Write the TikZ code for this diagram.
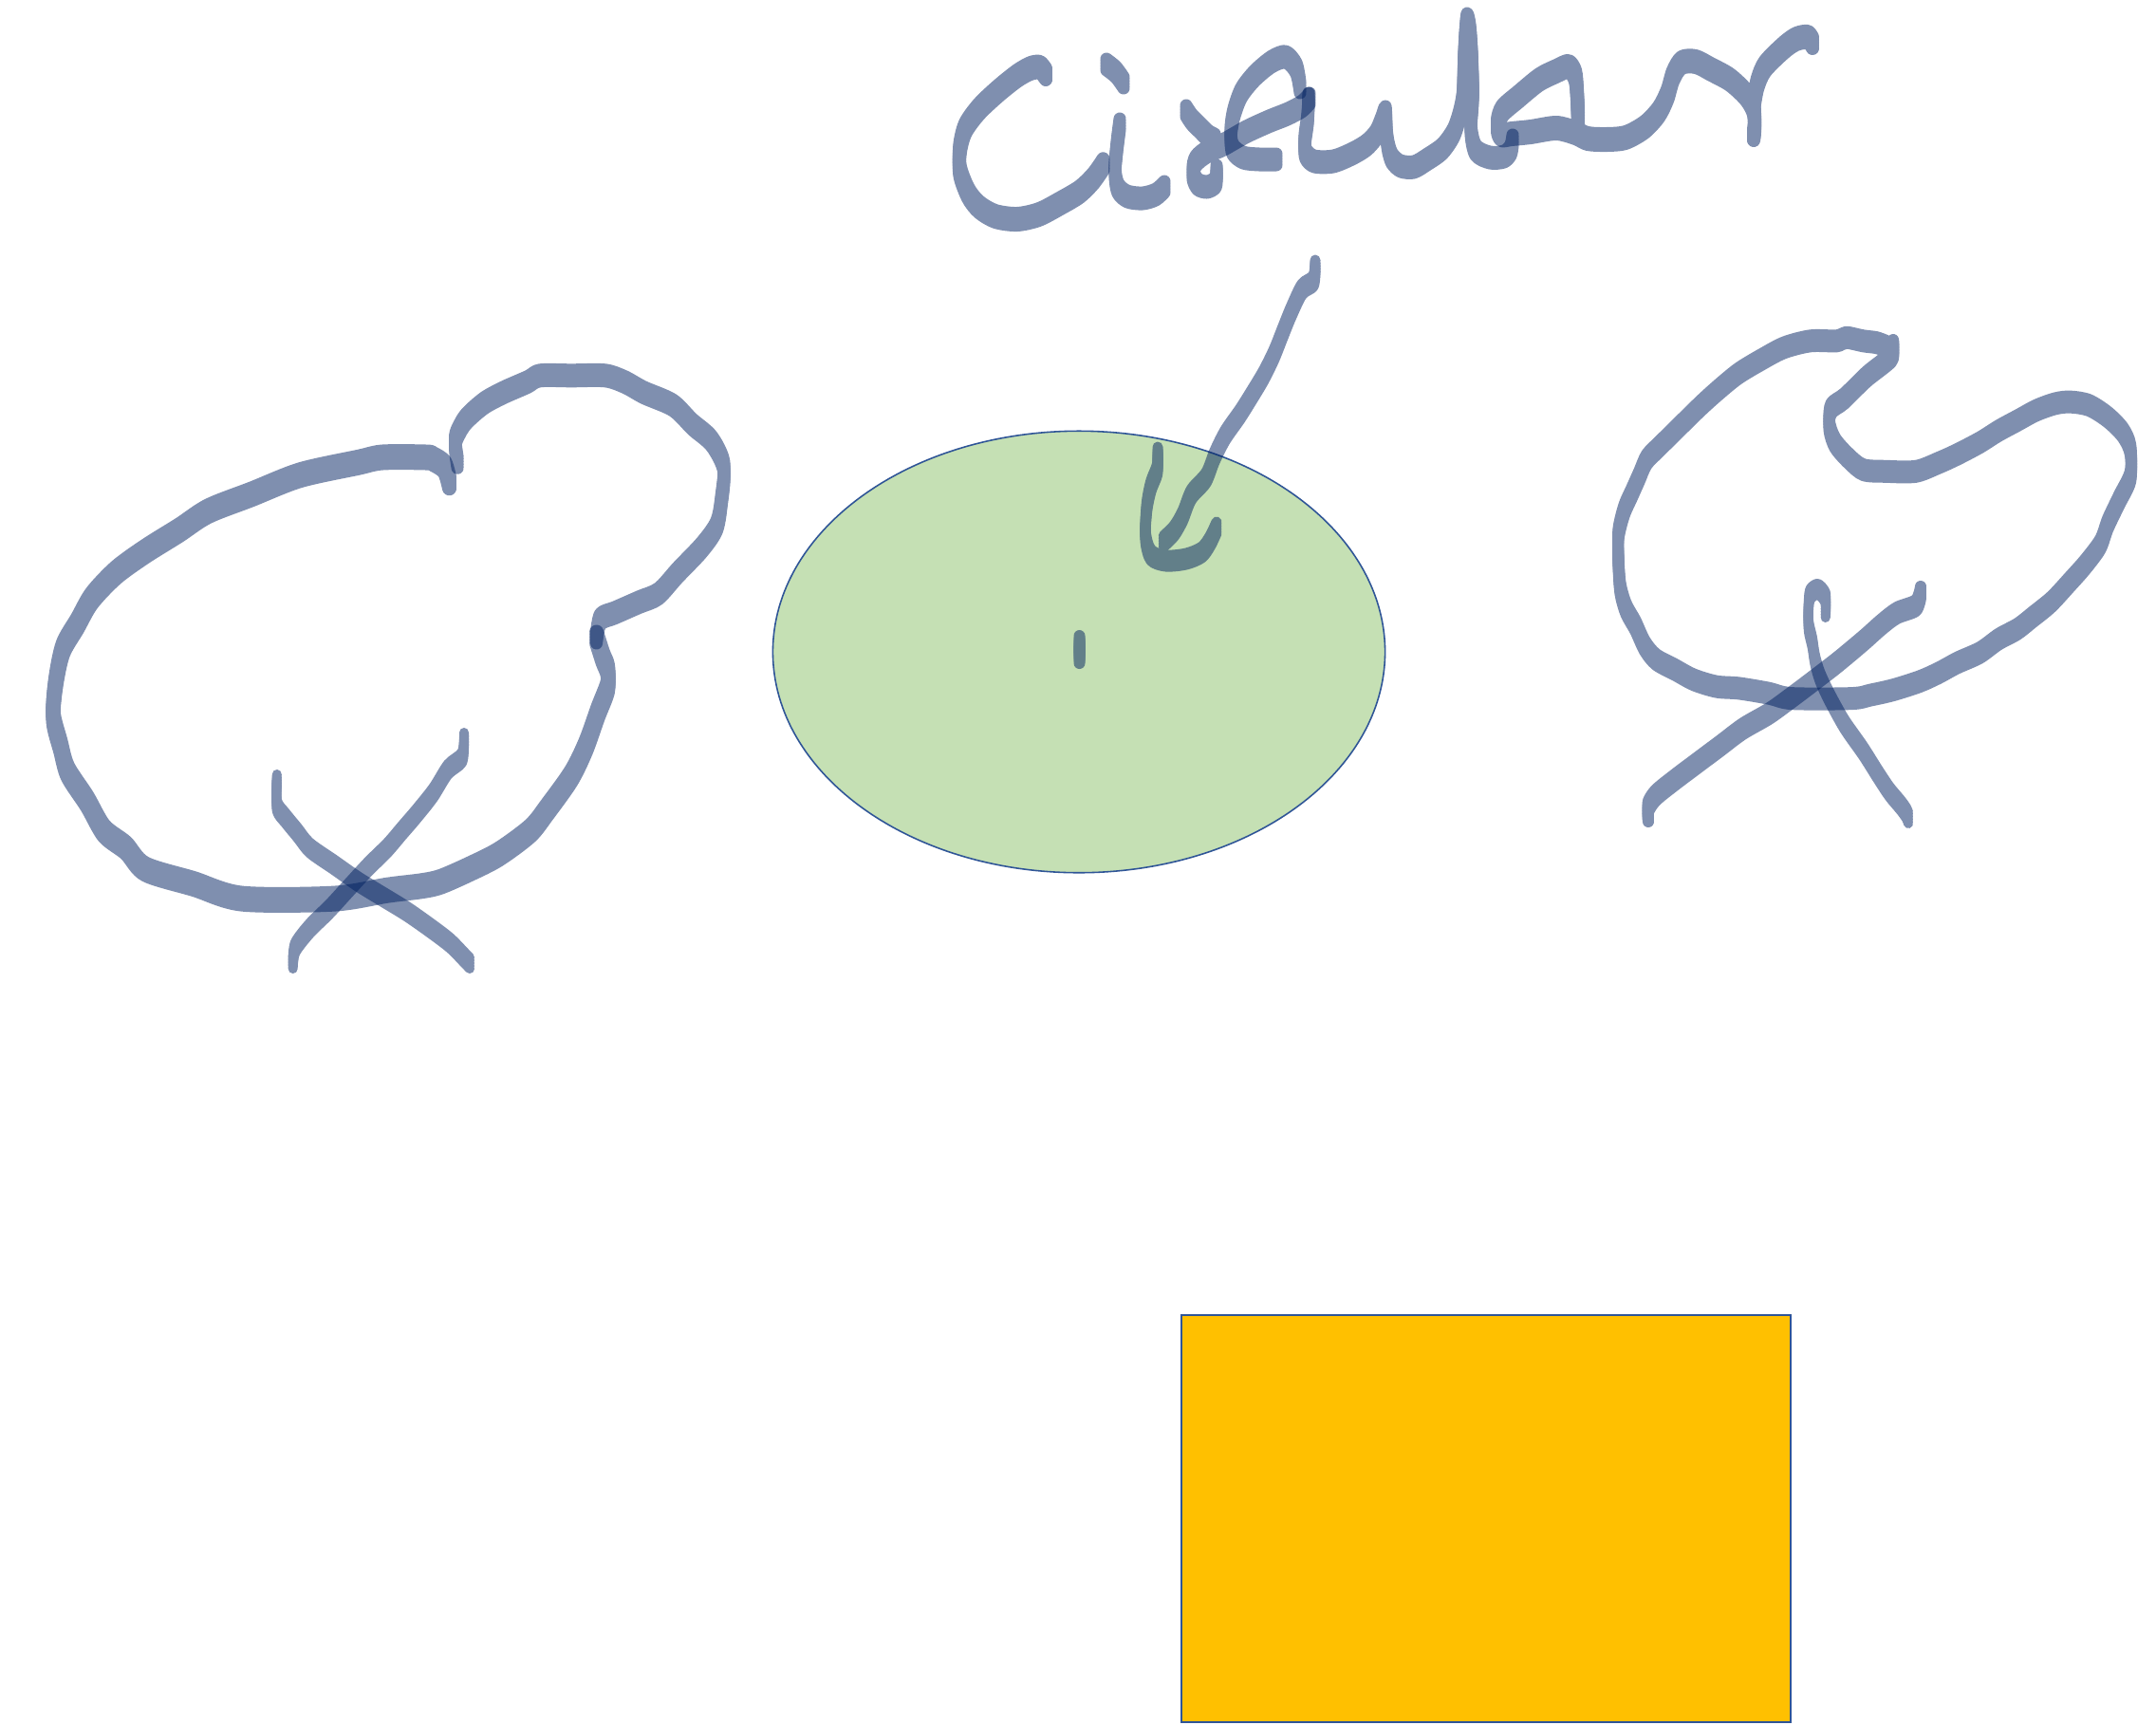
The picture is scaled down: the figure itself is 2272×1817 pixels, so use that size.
\documentclass[tikz,border=0pt]{standalone}
\definecolor{inkc}{HTML}{002060}
\definecolor{ellfill}{HTML}{C5E0B4}
\definecolor{edgeblue}{HTML}{2F5597}
\definecolor{rectfill}{HTML}{FFC000}
\tikzset{
  inkpen/.style={draw=inkc, line cap=round, line join=round},
  shapeedge/.style={draw=edgeblue},
}
% one stroke of a flat (vertical) nib: five shifted copies inside one transparency group
\newcommand\inkstroke[2][0.12cm]{%
  \begin{scope}[transparency group, opacity=0.5]
    \path (0,0) rectangle (2272,1817);
    \foreach \nibdy in {-6,-3,0,3,6}{\draw[inkpen, line width=#1, yshift=\nibdy*0.01cm] #2;}
  \end{scope}}
\begin{document}
\begin{tikzpicture}[x=0.01cm, y=-0.01cm]
\useasboundingbox (0,0) rectangle (2272,1817);
\fill[white] (0,0) rectangle (2272,1817);

% shapes
\draw[shapeedge, line width=0.45pt, fill=ellfill] (1137,687) ellipse [x radius=3.224cm, y radius=2.326cm];
\draw[shapeedge, line width=0.6pt, fill=rectfill] (1245,1386) rectangle (1887,1815);

% ---- handwriting "Circular" ----
\inkstroke[0.14cm]{plot[smooth,tension=0.5] coordinates {(1102,78) (1096,71) (1086,72) (1071.8,80) (1051.8,96) (1031.7,115) (1017.3,135) (1011.6,156.7) (1011.6,180) (1020.2,203.3) (1031.7,218) (1048.9,228) (1071.8,231) (1094.8,226) (1117.8,214) (1137.9,202) (1152.2,188) (1162.5,173.3)}}
\inkstroke[0.13cm]{plot[smooth,tension=0.5] coordinates {(1166,68) (1176,76) (1184,87)}}
\inkstroke[0.13cm]{plot[smooth,tension=0.5] coordinates {(1180,131) (1177,155) (1175,180) (1178,198) (1188,207) (1204,209) (1218,205) (1227,197)}}
\inkstroke[0.13cm]{plot[smooth,tension=0.5] coordinates {(1250,117) (1256,126) (1264,134) (1273,143) (1280,147)}
  plot[smooth,tension=0.5] coordinates {(1282,180) (1281,192) (1272,197) (1262,194) (1257,183) (1260,170) (1272,160) (1290,152) (1313,139) (1337,128) (1357,120) (1372,112) (1380,104)}}
\inkstroke[0.13cm]{plot[smooth,tension=0.5] coordinates {(1370,92) (1366,72) (1355,60) (1340,65) (1322,80) (1308,98) (1300,120) (1297,140) (1299,157) (1310,166) (1327,168) (1345,168)}}
\inkstroke[0.13cm]{plot[smooth,tension=0.5] coordinates {(1379,104) (1378,125) (1375,148) (1376,162) (1385,170) (1405,170) (1425,162) (1440,153) (1450,142) (1456,128) (1460,118) (1461,140) (1463,155) (1467,167) (1476,175) (1490,176) (1504,168) (1520,156.7) (1531.7,140) (1538.3,120) (1541.7,100) (1542.7,66.7) (1544,40) (1546,20) (1549,32) (1551,60) (1552,100) (1550,135) (1555,158) (1570,166) (1585,165) (1592,158) (1594,148)}}
\inkstroke[0.14cm]{plot[smooth,tension=0.5] coordinates {(1663,125) (1662,100) (1660,80) (1653,70) (1640,75) (1622,84) (1600,102) (1583,117) (1578,132) (1582,142) (1593,141) (1613,139) (1640,135) (1660,140) (1673,146) (1693,147) (1713,145) (1733,134) (1748,118) (1757,100) (1763,80) (1772,66) (1787,65) (1803,73) (1823,84) (1840,100) (1848,115) (1849,133) (1848,142)}
  plot[smooth,tension=0.5] coordinates {(1848,110) (1852,88) (1860,70) (1880,50) (1893,41) (1905,39) (1910,45)}}

% ---- left loops and cross ----
\inkstroke[0.15cm]{plot[smooth,tension=0.5] coordinates {(473.5,508.8) (468.4,492) (456.6,483.8) (449,482) (403,482) (377.6,487.3) (316.3,500.7) (265.3,520.8) (219.4,538.7) (188.8,558.8) (153.1,581.1) (122.4,603.4) (96.9,630.2) (81.6,657) (66.3,683.8) (58.7,719.5) (56.1,755.2) (63.8,786.4) (71.4,813.2) (91.8,844.5) (109.7,875.7) (132.7,893.6) (153.1,915.9) (204.1,931.5) (255.1,947.1) (352,947.1) (408.2,938.2) (443.9,933.8) (464.3,929.3) (494.9,915.9) (525.5,900.3) (558.7,875.7) (576.5,853.4) (602,817.7) (617.3,786.4) (630.1,750.7) (640.3,723.9) (640.3,706.1) (635.2,692.7) (628.6,672)}}
\inkstroke[0.13cm]{plot[smooth,tension=0.5] coordinates {(628.6,672) (632.7,652.5) (648,645.8) (673.5,634.6) (693.9,625.7) (714.3,603.4) (739.8,576.6) (755.1,554.3) (760.2,527.5) (762.8,491.8) (750,465) (729.6,447.1) (709.2,427.1) (678.6,413.7) (658.2,402.5) (637.8,395.8) (602,395.8) (568.9,395.8) (556.1,402.5) (530.6,413.7) (510.2,424.8) (492.3,440.4) (484.7,451.6) (479.6,465) (482.1,487.3)}}
\inkstroke[0.1cm]{plot[smooth,tension=0.5] coordinates {(489,778) (487,798) (472,811) (456.6,835.5) (438.8,857.9) (423.5,875.7) (408.2,893.6) (387.8,913.7) (367.3,936) (346.9,958.3) (326.5,978.4) (311.2,998.5) (308.7,1015)}}
\inkstroke[0.1cm]{plot[smooth,tension=0.5] coordinates {(291.8,822) (291.8,848.9) (301,862.3) (313.8,877.9) (326.5,893.6) (352,911.4) (377.6,929.3) (403.1,944.9) (428.6,960.5) (454.1,978.4) (474.5,994) (489.8,1009.6) (495,1015)}}

% ---- right loop and cross ----
\inkstroke[0.12cm]{plot[smooth,tension=0.5] coordinates {(1995,364) (1993,376) (1967.3,396.8) (1943.5,420) (1929.6,430.7) (1927.7,448.6) (1933.6,466.4) (1947.5,482.5) (1963.4,495) (1987.2,496.8) (2018.9,496.8) (2042.7,487.9) (2062.5,478.9) (2086.3,466.4) (2106.2,453.9) (2126,443.2) (2145.8,432.5) (2165.7,425.4) (2181.5,423.6) (2201.4,427.1) (2221.2,439.6) (2237.1,455.7) (2245,473.6) (2245,502.1) (2233.1,527.1) (2221.2,552.1) (2213.3,573.6) (2197.4,595) (2181.5,612.9) (2161.7,634.3) (2141.9,650.4) (2126,662.9) (2106.2,673.6) (2086.3,687.9) (2062.5,698.6) (2042.7,709.3) (2022.9,718.2) (1995.1,727.1) (1971.3,732.5) (1951.5,736.1) (1888,736.1) (1864.2,730.7) (1832.5,725.4) (1808.7,723.6) (1784.9,716.4) (1765,705.7) (1745.2,695) (1733.3,680.7) (1723.4,659.3) (1713.5,641.4) (1707.5,620) (1705.5,591.4) (1705.5,562.9) (1711.5,537.9) (1719.4,520) (1727.4,502.1) (1735.3,484.3) (1749.2,470) (1769,450.4) (1792.8,427.1) (1812.6,409.3) (1832.5,393.2) (1856.3,378.9) (1880.1,366.4) (1907.8,359.3) (1935.6,359.3) (1945.5,355.7) (1963.4,359.3) (1977.3,361.1) (1987.2,364.6)}}
\inkstroke[0.12cm]{plot[smooth,tension=0.5] coordinates {(2024,624) (2019,638) (1999,646) (1983,658) (1963.4,675.4) (1935.6,698.6) (1907.8,720) (1884,737.9) (1864.2,752.1) (1836.4,768.2) (1812.6,786.1) (1788.8,803.9) (1765,821.8) (1745,838) (1737,850) (1737,860)}}
\inkstroke[0.1cm]{plot[smooth,tension=0.5] coordinates {(1923.7,645) (1923.7,630) (1915.8,621) (1907.8,626) (1905.9,638) (1905.9,659.3) (1909.8,677.1) (1912.6,695) (1917.8,712.9) (1927.7,734.3) (1943.5,762.9) (1963.4,791.4) (1979.2,816.4) (1991.1,834.3) (2003,848.6) (2009,857) (2011,862)}}

% ---- pen stroke in the ellipse ----
\inkstroke[0.11cm]{plot[smooth,tension=0.5] coordinates {(1386,280) (1384,296) (1372,305) (1360.3,329.3) (1351.3,351.6) (1342.4,373.9) (1331.3,396.3) (1317.9,418.6) (1306.7,436.4) (1291.1,458.8) (1279.9,481.1) (1271,503.4) (1255.4,521.3) (1246.4,543.6) (1237.5,559.2) (1226.3,570.4)}
  plot[smooth,tension=0.5] coordinates {(1220,477) (1219.6,494.5) (1212.9,512.3) (1208.5,534.6) (1207.1,565) (1212.9,585) (1228.6,591) (1250,589) (1266.5,582) (1275.4,570) (1282,556)}}
\inkstroke[0.12cm]{(1137.5,676) -- (1137.5,693)}
\end{tikzpicture}
\end{document}
